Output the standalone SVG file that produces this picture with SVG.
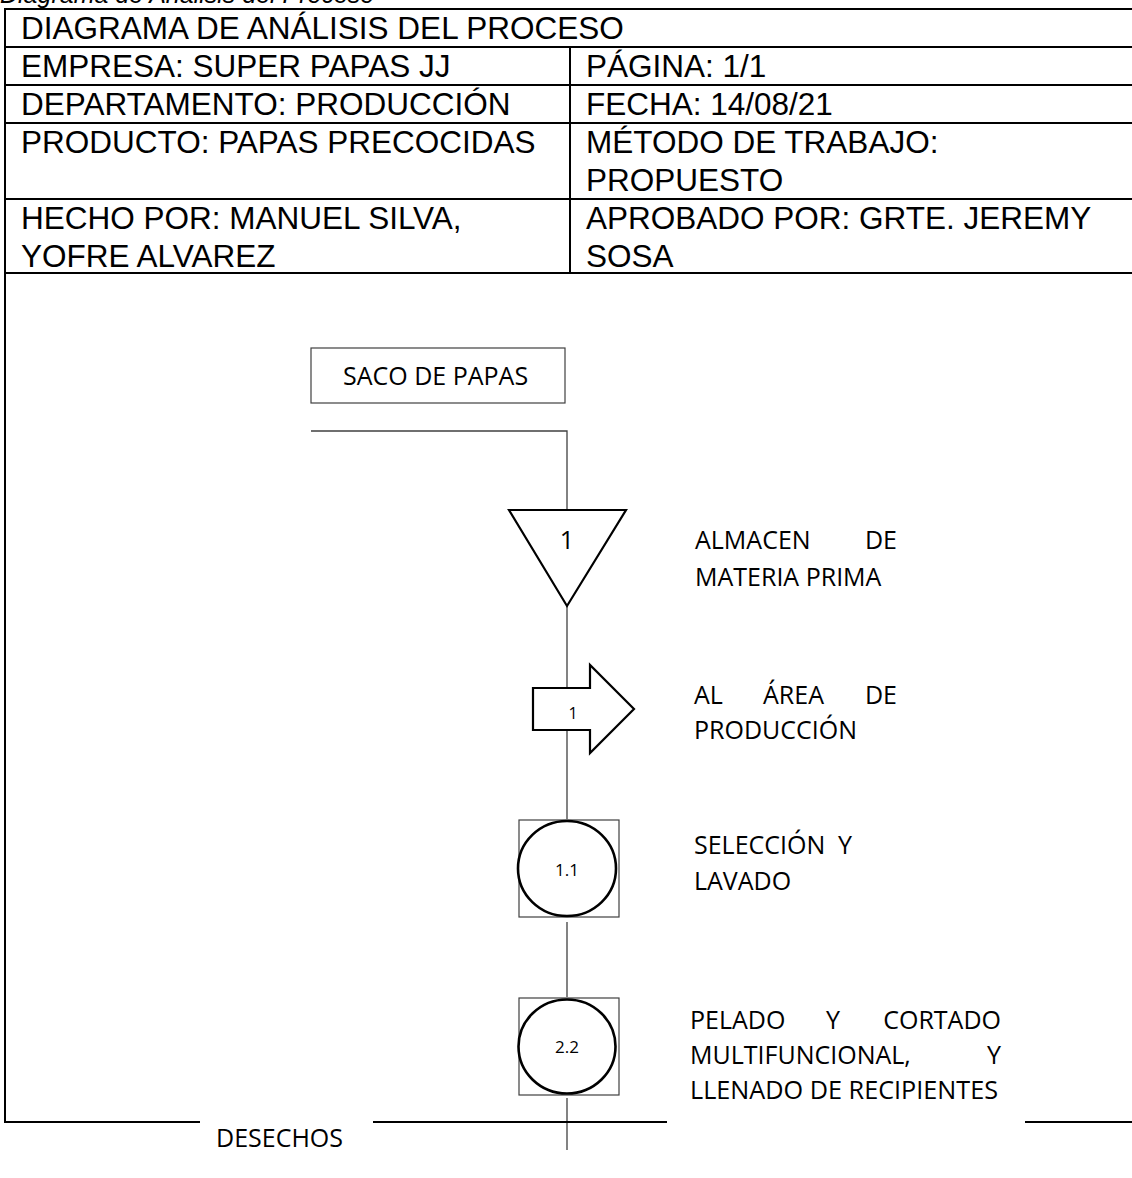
<svg xmlns="http://www.w3.org/2000/svg" width="1132" height="1178" viewBox="0 0 1132 1178">
<style>
.cap{font-family:"Liberation Sans",Arial,sans-serif;font-style:italic;font-size:25px;fill:#000}
.tb{font-family:"Liberation Sans",Arial,sans-serif;font-size:31.5px;fill:#000}
.tl{stroke:#000;stroke-width:2;fill:none}
.lbl{font-family:"Open Sans","Noto Sans",sans-serif;font-size:25px;fill:#000}
.num{font-family:"Open Sans","Noto Sans",sans-serif;fill:#000;text-anchor:middle}
.thin{stroke:#404040;stroke-width:1.3;fill:none}
.shape{stroke:#000;stroke-width:2.2;fill:#fff}
.box{stroke:#404040;stroke-width:1.2;fill:#fff}
.ring{stroke:#000;stroke-width:2.6;fill:#fff}
.heavy{stroke:#000;stroke-width:2.2;fill:none}
</style>
<rect width="1132" height="1178" fill="#fff"/>
<text class="cap" x="0" y="3">Diagrama de Análisis del Proceso</text>
<g id="header-table">
<line class="tl" x1="5" y1="9" x2="1132" y2="9"/>
<line class="tl" x1="5" y1="47" x2="1132" y2="47"/>
<line class="tl" x1="5" y1="85" x2="1132" y2="85"/>
<line class="tl" x1="5" y1="123" x2="1132" y2="123"/>
<line class="tl" x1="5" y1="199" x2="1132" y2="199"/>
<line class="tl" x1="5" y1="273" x2="1132" y2="273"/>
<line class="tl" x1="5" y1="8" x2="5" y2="1123"/>
<line class="tl" x1="570" y1="47" x2="570" y2="273"/>
<text class="tb" x="21" y="39">DIAGRAMA DE ANÁLISIS DEL PROCESO</text>
<text class="tb" x="21" y="77">EMPRESA: SUPER PAPAS JJ</text>
<text class="tb" x="586" y="77">PÁGINA: 1/1</text>
<text class="tb" x="21" y="115">DEPARTAMENTO: PRODUCCIÓN</text>
<text class="tb" x="586" y="115">FECHA: 14/08/21</text>
<text class="tb" x="21" y="153">PRODUCTO: PAPAS PRECOCIDAS</text>
<text class="tb" x="586" y="153">MÉTODO DE TRABAJO:</text>
<text class="tb" x="586" y="191">PROPUESTO</text>
<text class="tb" x="21" y="229">HECHO POR: MANUEL SILVA,</text>
<text class="tb" x="21" y="267">YOFRE ALVAREZ</text>
<text class="tb" x="586" y="229">APROBADO POR: GRTE. JEREMY</text>
<text class="tb" x="586" y="267">SOSA</text>
</g>
<g id="connectors">
<polyline class="thin" points="311,431 567,431 567,510"/>
<line class="thin" x1="567" y1="606" x2="567" y2="688"/>
<line class="thin" x1="567" y1="730" x2="567" y2="819"/>
<line class="thin" x1="567" y1="922" x2="567" y2="997"/>
<line class="thin" x1="567" y1="1098" x2="567" y2="1150"/>
<line class="heavy" x1="4" y1="1122" x2="200" y2="1122"/>
<line class="heavy" x1="373" y1="1122" x2="667" y2="1122"/>
<line class="heavy" x1="1025" y1="1122" x2="1132" y2="1122"/>
</g>
<g id="saco">
<rect class="box" x="311" y="348" width="254" height="55"/>
<text class="lbl" x="343" y="385">SACO DE PAPAS</text>
</g>
<g id="almacen">
<polygon class="shape" points="509,510 626,510 567,606"/>
<text class="num" x="567" y="549" font-size="25">1</text>
<text class="lbl" x="695" y="549">ALMACEN</text>
<text class="lbl" x="897" y="549" text-anchor="end">DE</text>
<text class="lbl" x="695" y="586">MATERIA PRIMA</text>
</g>
<g id="transporte">
<path class="shape" d="M533,688 H590 V665 L634,709 L590,753 V730 H533 Z"/>
<text class="num" x="573" y="719" font-size="16">1</text>
<text class="lbl" x="694" y="704">AL</text>
<text class="lbl" x="763" y="704">ÁREA</text>
<text class="lbl" x="897" y="704" text-anchor="end">DE</text>
<text class="lbl" x="694" y="739">PRODUCCIÓN</text>
</g>
<g id="seleccion">
<rect class="box" x="519" y="820" width="100" height="97"/>
<ellipse class="ring" cx="567" cy="868.5" rx="49" ry="47.5"/>
<text class="num" x="567" y="876" font-size="17">1.1</text>
<text class="lbl" x="694" y="854">SELECCIÓN</text>
<text class="lbl" x="852" y="854" text-anchor="end">Y</text>
<text class="lbl" x="694" y="890">LAVADO</text>
</g>
<g id="pelado">
<rect class="box" x="519" y="998" width="100" height="97"/>
<ellipse class="ring" cx="567" cy="1046.5" rx="48.5" ry="47"/>
<text class="num" x="567" y="1053" font-size="17">2.2</text>
<text class="lbl" x="690" y="1029">PELADO</text>
<text class="lbl" x="833" y="1029" text-anchor="middle">Y</text>
<text class="lbl" x="1001" y="1029" text-anchor="end">CORTADO</text>
<text class="lbl" x="690" y="1064">MULTIFUNCIONAL,</text>
<text class="lbl" x="1001" y="1064" text-anchor="end">Y</text>
<text class="lbl" x="690" y="1099" textLength="308" lengthAdjust="spacingAndGlyphs">LLENADO DE RECIPIENTES</text>
</g>
<g id="desechos">
<text class="lbl" x="216" y="1147">DESECHOS</text>
</g>
</svg>
